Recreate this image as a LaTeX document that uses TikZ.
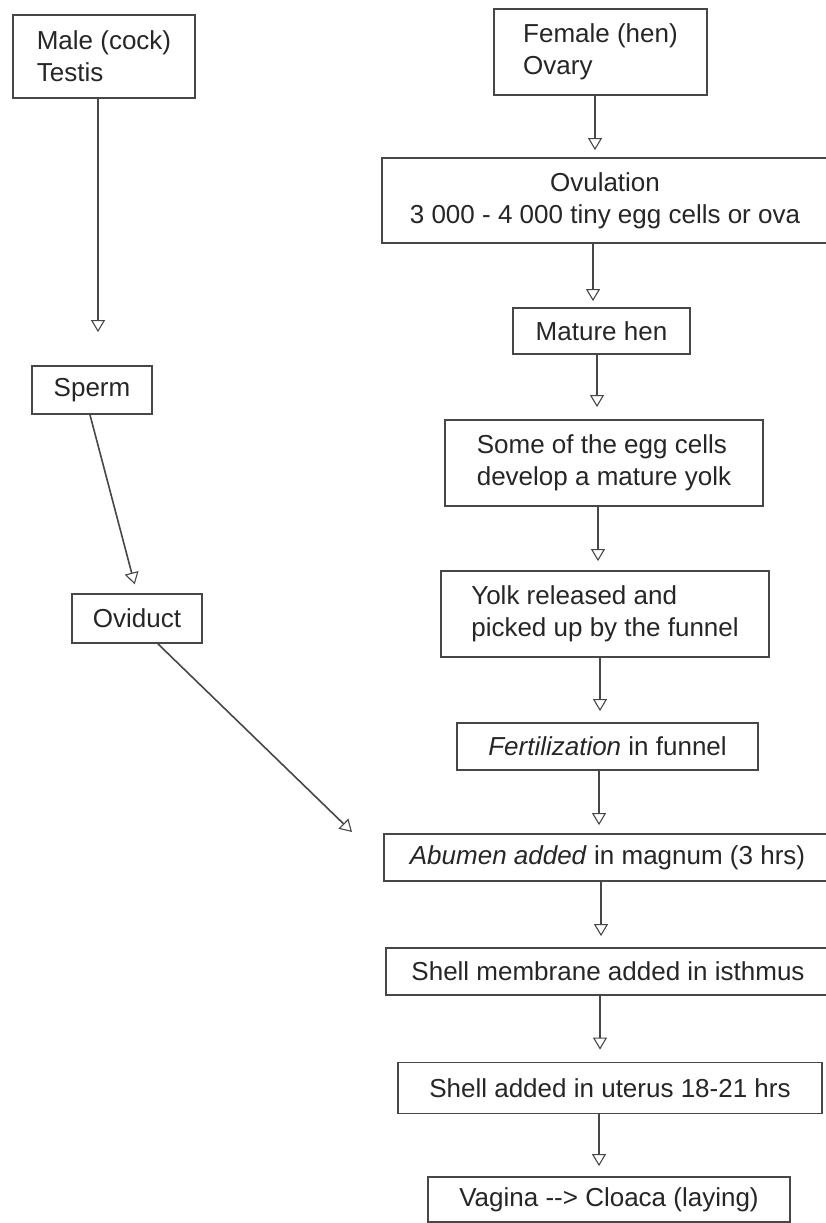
\documentclass[tikz,border=0pt]{standalone}
\usepackage{fontspec}
\setmainfont{Liberation Sans}
\usetikzlibrary{arrows.meta}
\tikzset{
  box/.style={draw=black!72, line width=1.8pt, inner sep=0pt, align=left,
    font=\fontsize{26}{32}\selectfont, text=black!85},
  arr/.style={draw=black!72, line width=1.6pt,
    -{Triangle[open, length=12pt, width=14pt, line width=1.1pt]}, shorten >=9pt}
}
\begin{document}
\begin{tikzpicture}[x=1pt, y=-1pt]
\fill[white] (0,0) rectangle (826,1223);
\clip (0,0) rectangle (826,1223);
% left chain
\node[box, minimum width=182pt, minimum height=83pt] (male) at (104,56.5) {Male (cock)\\Testis};
\node[box, minimum width=120pt, minimum height=48pt] (sperm) at (92,390) {Sperm};
\node[box, minimum width=130pt, minimum height=49pt] (ovi) at (137,618.5) {Oviduct};
\coordinate (ovtip) at (352,832);
% right chain
\node[box, minimum width=213pt, minimum height=86pt] (fem) at (600.5,52) {Female (hen)\\Ovary};
\node[box, align=center, minimum width=446pt, minimum height=85pt] (ovu) at (605,200.5) {Ovulation\\3 000 - 4 000 tiny egg cells or ova};
\node[box, minimum width=177pt, minimum height=46pt] (mat) at (601.5,331) {Mature hen};
\node[box, minimum width=318pt, minimum height=86pt] (some) at (604,463) {Some of the egg cells\\develop a mature yolk};
\node[box, minimum width=328pt, minimum height=86pt] (yolk) at (605,614) {Yolk released and\\picked up by the funnel};
\node[box, minimum width=301pt, minimum height=47pt] (fert) at (607.5,746.5) {\textit{Fertilization} in funnel};
\node[box, minimum width=447pt, minimum height=47pt] (abu) at (607.5,857.5) {\textit{Abumen added} in magnum (3 hrs)};
\node[box, minimum width=444pt, minimum height=47pt] (mem) at (608,971.5) {Shell membrane added in isthmus};
\node[box, minimum width=424pt, minimum height=51pt] (shell) at (610,1088) {Shell added in uterus 18-21 hrs};
\node[box, minimum width=362pt, minimum height=45pt] (vag) at (609,1199.5) {Vagina -{}-> Cloaca (laying)};
% left connectors
\draw[arr, shorten >=33pt] ([xshift=-6pt]male.south) -- ([xshift=-6pt]male.south |- sperm.north);
\draw[arr] ([xshift=-2pt]sperm.south) -- (ovi.north);
\draw[arr, shorten >=0pt] ([xshift=21pt]ovi.south) -- (ovtip);
% right connectors
\draw[arr, shorten >=7pt] ([xshift=-5.5pt]fem.south) -- ([xshift=-5.5pt]fem.south |- ovu.north);
\draw[arr, shorten >=6pt] ([xshift=-12pt]ovu.south) -- ([xshift=-12pt]ovu.south |- mat.north);
\draw[arr, shorten >=12pt] ([xshift=-4.5pt]mat.south) -- ([xshift=-4.5pt]mat.south |- some.north);
\draw[arr] ([xshift=-6pt]some.south) -- ([xshift=-6pt]some.south |- yolk.north);
\draw[arr, shorten >=11pt] ([xshift=-5pt]yolk.south) -- ([xshift=-5pt]yolk.south |- fert.north);
\draw[arr, shorten >=8pt] ([xshift=-8.5pt]fert.south) -- ([xshift=-8.5pt]fert.south |- abu.north);
\draw[arr, shorten >=11pt] ([xshift=-6.5pt]abu.south) -- ([xshift=-6.5pt]abu.south |- mem.north);
\draw[arr, shorten >=12pt] ([xshift=-8pt]mem.south) -- ([xshift=-8pt]mem.south |- shell.north);
\draw[arr, shorten >=10pt] ([xshift=-11pt]shell.south) -- ([xshift=-11pt]shell.south |- vag.north);
\end{tikzpicture}
\end{document}
